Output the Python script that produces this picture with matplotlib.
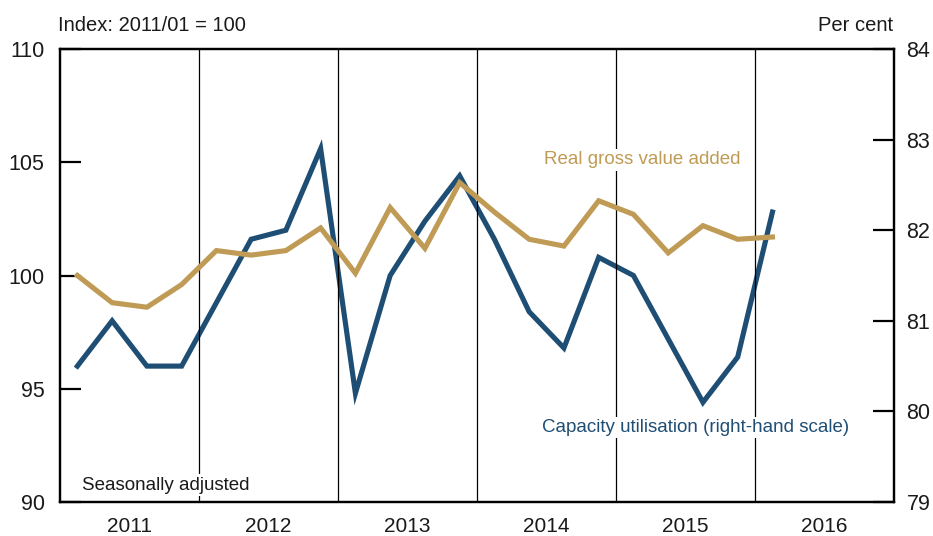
import numpy as np
import matplotlib
matplotlib.use("Agg")
import matplotlib.pyplot as plt

plt.rcParams['font.family'] = ['Liberation Sans', 'DejaVu Sans']

# quarterly data, 2011 Q1 to 2016 Q1
quarters = ['2011Q1', '2011Q2', '2011Q3', '2011Q4',
            '2012Q1', '2012Q2', '2012Q3', '2012Q4',
            '2013Q1', '2013Q2', '2013Q3', '2013Q4',
            '2014Q1', '2014Q2', '2014Q3', '2014Q4',
            '2015Q1', '2015Q2', '2015Q3', '2015Q4',
            '2016Q1']
gva = [100.0, 98.8, 98.6, 99.6,
       101.1, 100.9, 101.1, 102.1,
       100.1, 103.0, 101.2, 104.1,
       102.8, 101.6, 101.3, 103.3,
       102.7, 101.0, 102.2, 101.6,
       101.7]
capacity = [80.5, 81.0, 80.5, 80.5,
            81.2, 81.9, 82.0, 82.9,
            80.2, 81.5, 82.1, 82.6,
            81.9, 81.1, 80.7, 81.7,
            81.5, 80.8, 80.1, 80.6,
            82.2]
years = [2011, 2012, 2013, 2014, 2015, 2016]

gold = '#BF9B55'
blue = '#1F4E75'
ink = '#1a1a1a'

# centre each quarter within its year
x = np.array([int(q[:4]) + (int(q[-1]) - 0.5) / 4 for q in quarters])

fig = plt.figure(figsize=(9.33, 5.36), dpi=100)
ax = fig.add_axes([0.0643, 0.0634, 0.894, 0.8452])
ax2 = ax.twinx()

for yr in years[1:]:
    ax.axvline(yr, color='black', lw=0.9, zorder=1)

ax.plot(x, gva, color=gold, lw=3.7, zorder=4, solid_joinstyle='miter')
ax2.plot(x, capacity, color=blue, lw=3.7, zorder=4, solid_joinstyle='miter')

ax.set_xlim(2011, 2017)
ax.set_ylim(90, 110)
ax2.set_ylim(79, 84)
ax.set_yticks([90, 95, 100, 105, 110])
ax2.set_yticks([79, 80, 81, 82, 83, 84])

ax.set_xticks([y + 0.5 for y in years])
ax.set_xticklabels([str(y) for y in years])

ax.tick_params(axis='x', length=0, pad=11, labelsize=15, colors=ink)
ax.tick_params(axis='y', direction='in', length=15, width=1.6, pad=11,
               labelsize=15.5, labelcolor=ink)
ax2.tick_params(axis='y', direction='in', length=15, width=1.6, pad=9,
                labelsize=15.5, labelcolor=ink)

for a in (ax, ax2):
    for s in a.spines.values():
        s.set_linewidth(1.6)

ax.set_zorder(ax2.get_zorder() + 1)
ax.patch.set_visible(False)

box = dict(facecolor='white', edgecolor='none', pad=1.5)
ax.text(2015.19, 105.1, 'Real gross value added', color=gold, fontsize=13.5,
        ha='center', va='center', bbox=box, zorder=3)
ax.text(2015.57, 93.3, 'Capacity utilisation (right-hand scale)', color=blue,
        fontsize=13.5, ha='center', va='center', bbox=box, zorder=3)
ax.text(2011.16, 90.75, 'Seasonally adjusted', color=ink, fontsize=13.5,
        ha='left', va='center', bbox=box, zorder=3)

fig.text(0.062, 0.935, 'Index: 2011/01 = 100', fontsize=14.5, color=ink,
         ha='left', va='bottom')
fig.text(0.957, 0.935, 'Per cent', fontsize=14.5, color=ink,
         ha='right', va='bottom')

fig.savefig('out.png', dpi=100)
